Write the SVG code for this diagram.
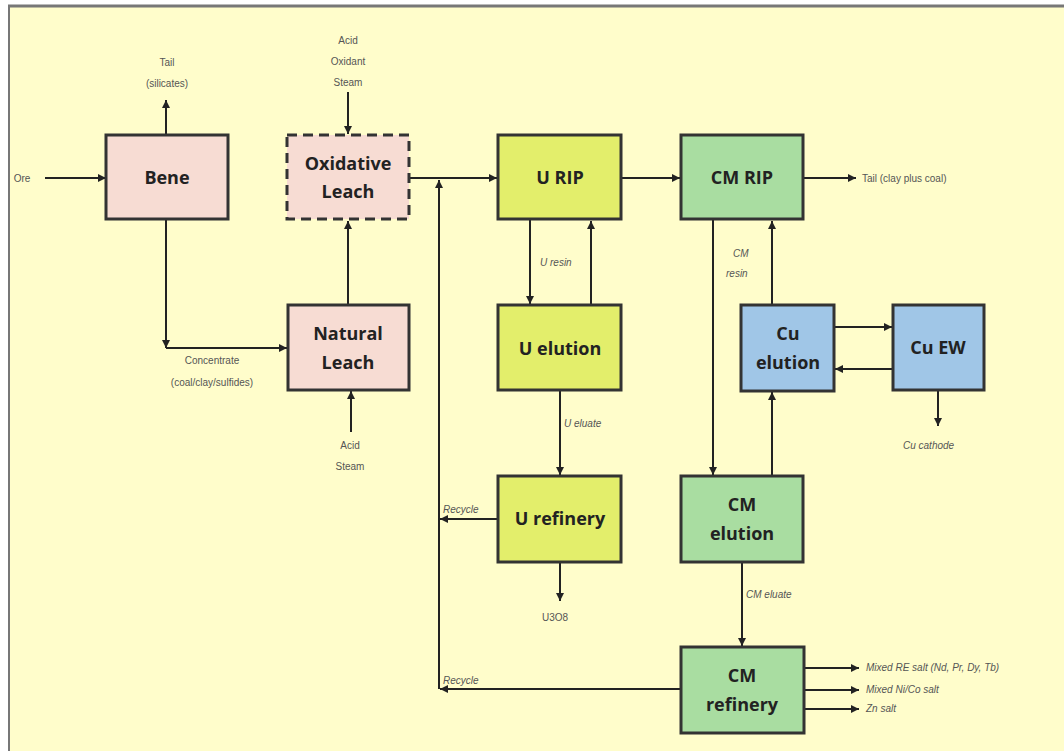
<svg xmlns="http://www.w3.org/2000/svg" width="1064" height="751" viewBox="0 0 1064 751">
<defs>
<marker id="ah" viewBox="0 0 10 10" refX="10" refY="5" markerWidth="10" markerHeight="8" markerUnits="userSpaceOnUse" orient="auto">
<path d="M0,0 L10,5 L0,10 z" fill="#222"/>
</marker>
<style>
.box{stroke:#333;stroke-width:3}
.pink{fill:#f7dcd3}
.yel{fill:#e3ee6b}
.grn{fill:#a9dda1}
.blu{fill:#a0c6e7}
.t{font-family:"Open Sans","DejaVu Sans",sans-serif;font-weight:bold;font-size:18px;fill:#222;text-anchor:middle}
.l{font-family:"Liberation Sans",Arial,sans-serif;font-size:10px;fill:#555;text-anchor:middle}
.li{font-family:"Liberation Sans",Arial,sans-serif;font-size:10px;fill:#555;font-style:italic}
.c{stroke:#222;stroke-width:2;fill:none}
.ca{stroke:#222;stroke-width:2;fill:none;marker-end:url(#ah)}
</style>
</defs>
<rect x="0" y="0" width="1064" height="751" fill="#ffffff"/>
<rect x="9" y="6" width="1055" height="745" fill="#fffdcb"/>
<line x1="8" y1="6" x2="1064" y2="6" stroke="#777" stroke-width="3"/>
<line x1="9" y1="6" x2="9" y2="751" stroke="#777" stroke-width="2"/>

<g id="connectors">
<line class="ca" x1="45" y1="178" x2="106" y2="178"/>
<line class="ca" x1="166" y1="135" x2="166" y2="100"/>
<line class="ca" x1="348" y1="92" x2="348" y2="134"/>
<line class="ca" x1="166" y1="220" x2="166" y2="348"/>
<line class="ca" x1="166" y1="348" x2="287" y2="348"/>
<line class="ca" x1="348" y1="305" x2="348" y2="221"/>
<line class="ca" x1="351" y1="432" x2="351" y2="391"/>
<line class="ca" x1="409" y1="178" x2="497" y2="178"/>
<line class="ca" x1="439" y1="689" x2="439" y2="180"/>
<line class="ca" x1="621" y1="178" x2="680" y2="178"/>
<line class="ca" x1="803" y1="178" x2="856" y2="178"/>
<line class="ca" x1="530" y1="220" x2="530" y2="304"/>
<line class="ca" x1="591" y1="305" x2="591" y2="221"/>
<line class="ca" x1="560" y1="390" x2="560" y2="475"/>
<line class="ca" x1="498" y1="519" x2="440" y2="519"/>
<line class="ca" x1="560" y1="562" x2="560" y2="601"/>
<line class="ca" x1="713" y1="219" x2="713" y2="475"/>
<line class="ca" x1="772" y1="305" x2="772" y2="221"/>
<line class="ca" x1="772" y1="476" x2="772" y2="392"/>
<line class="ca" x1="834" y1="327" x2="892" y2="327"/>
<line class="ca" x1="893" y1="369" x2="835" y2="369"/>
<line class="ca" x1="938" y1="390" x2="938" y2="426"/>
<line class="ca" x1="742" y1="562" x2="742" y2="646"/>
<line class="ca" x1="681" y1="689" x2="440" y2="689"/>
<line class="ca" x1="804" y1="668" x2="859" y2="668"/>
<line class="ca" x1="804" y1="690" x2="859" y2="690"/>
<line class="ca" x1="804" y1="709" x2="859" y2="709"/>
</g>

<g id="labels">
<text class="l" x="22" y="182">Ore</text>
<text class="l" x="167" y="66">Tail</text>
<text class="l" x="167" y="87">(silicates)</text>
<text class="l" x="348" y="44">Acid</text>
<text class="l" x="348" y="65">Oxidant</text>
<text class="l" x="348" y="86">Steam</text>
<text class="l" x="212" y="364">Concentrate</text>
<text class="l" x="212" y="386">(coal/clay/sulfides)</text>
<text class="l" x="350" y="449">Acid</text>
<text class="l" x="350" y="470">Steam</text>
<text class="li" x="540" y="266">U resin</text>
<text class="li" x="564" y="427">U eluate</text>
<text class="li" x="443" y="513">Recycle</text>
<text class="l" x="555" y="621">U3O8</text>
<text class="li" x="733" y="257">CM</text>
<text class="li" x="726" y="277">resin</text>
<text class="l" x="862" y="182" style="text-anchor:start">Tail (clay plus coal)</text>
<text class="li" x="903" y="449">Cu cathode</text>
<text class="li" x="746" y="598">CM eluate</text>
<text class="li" x="443" y="684">Recycle</text>
<text class="li" x="866" y="671">Mixed RE salt (Nd, Pr, Dy, Tb)</text>
<text class="li" x="866" y="693">Mixed Ni/Co salt</text>
<text class="li" x="866" y="712">Zn salt</text>
</g>

<g id="bene"><rect class="box pink" x="106" y="135" width="122" height="84"/><text class="t" x="167" y="184">Bene</text></g>
<g id="oxidative-leach"><rect class="box pink" x="287" y="135" width="122" height="84" stroke-dasharray="10,6"/><text class="t" x="348" y="170">Oxidative</text><text class="t" x="348" y="198">Leach</text></g>
<g id="natural-leach"><rect class="box pink" x="288" y="305" width="121" height="85"/><text class="t" x="348" y="340">Natural</text><text class="t" x="348" y="369">Leach</text></g>
<g id="u-rip"><rect class="box yel" x="498" y="135" width="123" height="84"/><text class="t" x="560" y="184">U RIP</text></g>
<g id="u-elution"><rect class="box yel" x="498" y="305" width="123" height="85"/><text class="t" x="560" y="355">U elution</text></g>
<g id="u-refinery"><rect class="box yel" x="498" y="476" width="123" height="86"/><text class="t" x="560" y="525">U refinery</text></g>
<g id="cm-rip"><rect class="box grn" x="681" y="135" width="122" height="84"/><text class="t" x="742" y="184">CM RIP</text></g>
<g id="cu-elution"><rect class="box blu" x="741" y="305" width="93" height="86"/><text class="t" x="788" y="340">Cu</text><text class="t" x="788" y="369">elution</text></g>
<g id="cu-ew"><rect class="box blu" x="893" y="305" width="91" height="85"/><text class="t" x="938" y="354">Cu EW</text></g>
<g id="cm-elution"><rect class="box grn" x="681" y="476" width="122" height="86"/><text class="t" x="742" y="511">CM</text><text class="t" x="742" y="540">elution</text></g>
<g id="cm-refinery"><rect class="box grn" x="681" y="647" width="123" height="86"/><text class="t" x="742" y="682">CM</text><text class="t" x="742" y="711">refinery</text></g>
</svg>
